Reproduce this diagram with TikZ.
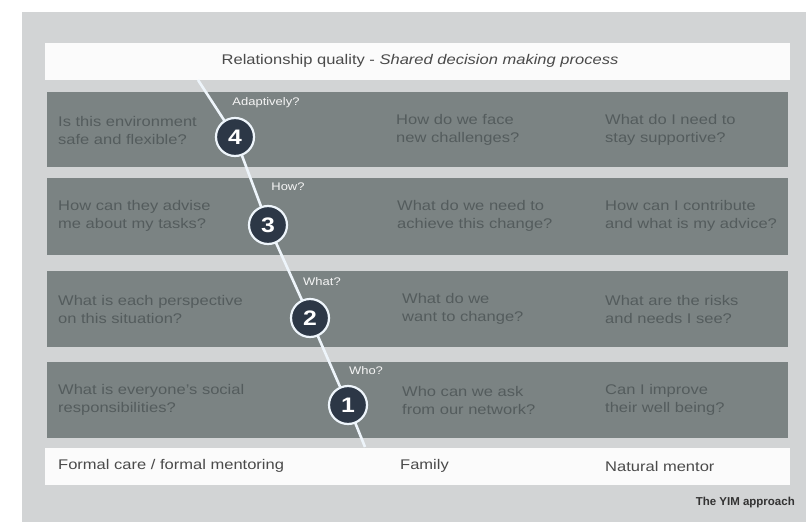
\documentclass[tikz,border=0pt]{standalone}
\usepackage{fontspec}
\setmainfont{Liberation Sans}[FakeStretch=1.18]
\newfontfamily\capfont{Liberation Sans}
\definecolor{panelgray}{HTML}{D2D4D5}
\definecolor{rowgray}{HTML}{7B8383}
\definecolor{rowtext}{HTML}{545C5D}
\definecolor{bartext}{HTML}{4A4A4A}
\definecolor{circfill}{HTML}{2C3746}
\definecolor{linecol}{HTML}{EEF5FB}
\tikzset{
  rowbox/.style={fill=rowgray, draw=none, minimum width=741pt, inner sep=0pt},
  whitebar/.style={fill=white!97!gray, draw=none, minimum width=745pt, minimum height=37pt, inner sep=0pt},
  qtext/.style={anchor=west, align=left, text=rowtext, font=\fontsize{14}{18}\selectfont, inner sep=0pt},
  bartxt/.style={anchor=west, text=bartext, font=\fontsize{14}{16}\selectfont, inner sep=0pt},
  numcirc/.style={circle, fill=circfill, draw=linecol, line width=2.2pt, minimum size=38pt, inner sep=0pt,
                  text=white, font=\fontsize{21}{21}\selectfont\bfseries},
  steplabel/.style={text=white!92!gray, font=\fontsize{11}{12}\selectfont, inner sep=0pt},
  pathline/.style={draw=linecol, line width=2.6pt}
}
\begin{document}
\begin{tikzpicture}[x=1pt,y=-1pt]
\useasboundingbox (0,0) rectangle (806,522);
\fill[white] (0,0) rectangle (806,522);
\fill[panelgray] (22,12) rectangle (806,522);
% bars
\node[whitebar] (topbar) at (417.5,61) {};
\node[text=bartext, font=\fontsize{14}{16}\selectfont] (toptext) at (420,61) {Relationship quality - \textit{Shared decision making process}};
\node[whitebar] (botbar) at (417.5,466) {};
% rows
\node[rowbox, minimum height=75pt] (row1) at (417.5,129.5) {};
\node[rowbox, minimum height=77pt] (row2) at (417.5,216.5) {};
\node[rowbox, minimum height=76pt] (row3) at (417.5,309) {};
\node[rowbox, minimum height=76pt] (row4) at (417.5,400) {};
% row texts
\node[qtext] (q11) at (58,130) {Is this environment\\safe and flexible?};
\node[qtext] (q12) at (396,130) {How do we face\\new challenges?};
\node[qtext] (q13) at (605,130) {What do I need to\\stay supportive?};
\node[qtext] (q21) at (58,216) {How can they advise\\me about my tasks?};
\node[qtext] (q22) at (397,216) {What do we need to\\achieve this change?};
\node[qtext] (q23) at (605,216) {How can I contribute\\and what is my advice?};
\node[qtext] (q31) at (58,309) {What is each perspective\\on this situation?};
\node[qtext] (q32) at (402,309) {What do we\\want to change?};
\node[qtext] (q33) at (605,309) {What are the risks\\and needs I see?};
\node[qtext] (q41) at (58,400) {What is everyone's social\\responsibilities?};
\node[qtext] (q42) at (402,400) {Who can we ask\\from our network?};
\node[qtext] (q43) at (605,400) {Can I improve\\their well being?};
% bottom bar texts
\node[bartxt] (b1) at (58,466) {Formal care / formal mentoring};
\node[bartxt] (b2) at (400,466) {Family};
\node[bartxt] (b3) at (605,466) {Natural mentor};
% path line
\coordinate (ltop) at (198,80);
\coordinate (p4) at (235,137);
\coordinate (p3) at (268,225);
\coordinate (p2) at (310,318);
\coordinate (p1) at (348,405);
\coordinate (lbot) at (365,447);
\draw[pathline] (ltop) -- (p4) -- (p3) -- (p2) -- (p1) -- (lbot);
% circles
\node[numcirc] (c4) at (p4) {4};
\node[numcirc] (c3) at (p3) {3};
\node[numcirc] (c2) at (p2) {2};
\node[numcirc] (c1) at (p1) {1};
% step labels
\node[steplabel] (s4) at (266,103) {Adaptively?};
\node[steplabel] (s3) at (288,187) {How?};
\node[steplabel] (s2) at (322,282) {What?};
\node[steplabel] (s1) at (366,371) {Who?};
% caption
\node[anchor=east, text=black!80, font=\capfont\fontsize{11.5}{13}\selectfont\bfseries, inner sep=0pt] (cap) at (795,503) {The YIM approach};
\end{tikzpicture}
\end{document}
